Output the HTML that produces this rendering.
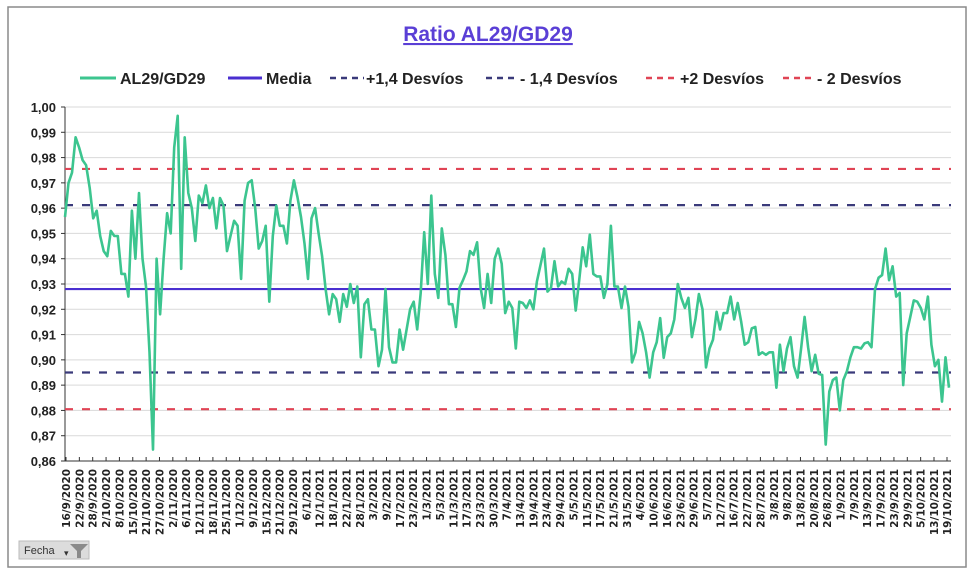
<!DOCTYPE html>
<html><head><meta charset="utf-8"><style>
body{margin:0;background:#fff;font-family:"Liberation Sans",sans-serif;}
svg{display:block}
</style></head><body>
<svg id="chart" width="975" height="577" viewBox="0 0 975 577">
<rect x="8" y="7" width="958" height="560" fill="#fff" stroke="#8a8a8a" stroke-width="1.5"/>
<text x="488" y="41" text-anchor="middle" font-size="21" font-weight="bold" fill="#5a3fd6" text-decoration="underline">Ratio AL29/GD29</text>
<g id="legend" font-size="16" font-weight="bold" fill="#222">
 <g><line x1="80" y1="78" x2="116" y2="78" stroke="#3cc58f" stroke-width="3"/><text x="120" y="84">AL29/GD29</text></g>
 <g><line x1="228" y1="78" x2="262" y2="78" stroke="#4a2fd0" stroke-width="3"/><text x="266" y="84">Media</text></g>
 <g><line x1="330" y1="78" x2="364" y2="78" stroke="#3a3a7a" stroke-width="2.5" stroke-dasharray="6,5"/><text x="366" y="84">+1,4 Desvíos</text></g>
 <g><line x1="486" y1="78" x2="518" y2="78" stroke="#3a3a7a" stroke-width="2.5" stroke-dasharray="6,5"/><text x="520" y="84">- 1,4 Desvíos</text></g>
 <g><line x1="646" y1="78" x2="678" y2="78" stroke="#e04455" stroke-width="2.5" stroke-dasharray="6,5"/><text x="680" y="84">+2 Desvíos</text></g>
 <g><line x1="783" y1="78" x2="815" y2="78" stroke="#e04455" stroke-width="2.5" stroke-dasharray="6,5"/><text x="817" y="84">- 2 Desvíos</text></g>
</g>
<g id="grid"></g>
<g id="yaxis"></g>
<g id="refs"></g>
<g id="series"></g>
<g id="xaxis"></g>
<g>
 <rect x="19" y="541" width="70" height="18" fill="#dcdcdc" stroke="#bbb"/>
 <text x="24" y="554" font-size="11" fill="#333">Fecha</text>
 <text x="64" y="556" font-size="9" fill="#333">▾</text>
 <polygon points="70,544 88,544 81,551 81,558 77,558 77,551" fill="#8a8a8a"/>
</g>
</svg>
<script>
const yTicks=[1.00,0.99,0.98,0.97,0.96,0.95,0.94,0.93,0.92,0.91,0.90,0.89,0.88,0.87,0.86];
const yTickLabels=["1,00","0,99","0,98","0,97","0,96","0,95","0,94","0,93","0,92","0,91","0,90","0,89","0,88","0,87","0,86"];
const xLabels=["16/9/2020","22/9/2020","28/9/2020","2/10/2020","8/10/2020","15/10/2020","21/10/2020","27/10/2020","2/11/2020","6/11/2020","12/11/2020","18/11/2020","25/11/2020","1/12/2020","9/12/2020","15/12/2020","21/12/2020","29/12/2020","6/1/2021","12/1/2021","18/1/2021","22/1/2021","28/1/2021","3/2/2021","9/2/2021","17/2/2021","23/2/2021","1/3/2021","5/3/2021","11/3/2021","17/3/2021","23/3/2021","30/3/2021","7/4/2021","13/4/2021","19/4/2021","23/4/2021","29/4/2021","5/5/2021","11/5/2021","17/5/2021","21/5/2021","31/5/2021","4/6/2021","10/6/2021","16/6/2021","23/6/2021","29/6/2021","5/7/2021","12/7/2021","16/7/2021","22/7/2021","28/7/2021","3/8/2021","9/8/2021","13/8/2021","20/8/2021","26/8/2021","1/9/2021","7/9/2021","13/9/2021","17/9/2021","23/9/2021","29/9/2021","5/10/2021","13/10/2021","19/10/2021"];
const ratioValues=[0.9565,0.970,0.974,0.988,0.984,0.979,0.977,0.968,0.956,0.959,0.949,0.943,0.941,0.951,0.949,0.949,0.934,0.934,0.925,0.959,0.940,0.966,0.940,0.929,0.903,0.8645,0.940,0.918,0.940,0.958,0.950,0.984,0.9965,0.936,0.988,0.966,0.960,0.947,0.965,0.962,0.969,0.960,0.964,0.952,0.964,0.961,0.943,0.949,0.955,0.953,0.932,0.963,0.970,0.971,0.960,0.944,0.947,0.953,0.923,0.949,0.961,0.953,0.953,0.946,0.963,0.971,0.9645,0.9565,0.946,0.932,0.956,0.960,0.950,0.941,0.928,0.918,0.926,0.924,0.915,0.926,0.921,0.930,0.9225,0.929,0.901,0.922,0.924,0.912,0.912,0.8975,0.904,0.928,0.905,0.899,0.899,0.912,0.904,0.912,0.920,0.923,0.912,0.9265,0.9505,0.930,0.965,0.934,0.9245,0.952,0.9415,0.922,0.922,0.913,0.9285,0.9315,0.935,0.943,0.9415,0.9465,0.9285,0.9205,0.934,0.9225,0.940,0.944,0.938,0.9185,0.923,0.9205,0.9045,0.923,0.9225,0.9205,0.9235,0.920,0.931,0.9375,0.944,0.927,0.9285,0.939,0.929,0.931,0.930,0.936,0.934,0.9195,0.9315,0.9445,0.937,0.9495,0.934,0.933,0.933,0.9245,0.930,0.953,0.929,0.929,0.9205,0.929,0.921,0.899,0.903,0.915,0.9105,0.903,0.893,0.903,0.907,0.9165,0.9008,0.909,0.9105,0.916,0.930,0.9245,0.9205,0.9245,0.909,0.916,0.926,0.920,0.897,0.9045,0.908,0.919,0.912,0.9185,0.9185,0.925,0.916,0.9225,0.915,0.906,0.907,0.9125,0.913,0.902,0.903,0.902,0.903,0.903,0.889,0.906,0.8955,0.9045,0.909,0.8975,0.893,0.9045,0.917,0.905,0.8955,0.902,0.8945,0.894,0.8665,0.8875,0.892,0.893,0.880,0.892,0.8955,0.901,0.905,0.905,0.9045,0.9065,0.907,0.905,0.928,0.9325,0.9335,0.944,0.9315,0.937,0.925,0.9265,0.890,0.9105,0.917,0.9235,0.923,0.9205,0.916,0.925,0.906,0.8975,0.900,0.8835,0.901,0.889];
const refValues=[0.928,0.9612,0.8950,0.9755,0.8805];
const refNames=["media-line","plus-1-4-desvios-line","minus-1-4-desvios-line","plus-2-desvios-line","minus-2-desvios-line"];
const refColors=["#4a2fd0","#3a3a7a","#3a3a7a","#e04455","#e04455"];

const NS="http://www.w3.org/2000/svg";
const X0=65,X1=951,YTOP=107,YBOT=461,VMAX=1.00,VMIN=0.86;
function yScale(v){return YTOP+(VMAX-v)/(VMAX-VMIN)*(YBOT-YTOP);}
function xScale(i,n){return X0+i*(X1-2-X0)/(n-1);}
function mk(tag,attrs,parent){const e=document.createElementNS(NS,tag);for(const k in attrs)e.setAttribute(k,attrs[k]);parent.appendChild(e);return e;}
const grid=document.getElementById('grid'),yaxis=document.getElementById('yaxis');
yTicks.forEach((t,i)=>{
 const y=yScale(t);
 if(i<yTicks.length-1){const g=mk('line',{x1:X0,x2:X1,y1:y,y2:y,stroke:'#d9d9d9','stroke-width':1},grid);
 
 }
 const tk=mk('line',{x1:X0-4,x2:X0,y1:y,y2:y,stroke:'#333'},yaxis);
 
 
 const tx=mk('text',{x:X0-9,y:y+5,'text-anchor':'end','font-size':13,'font-weight':'bold',fill:'#222'},yaxis);
 tx.textContent=yTickLabels[i];
 
 
});
const ax=mk('line',{x1:X0,x2:X0,y1:YTOP,y2:YBOT,stroke:'#333'},yaxis);


const refs=document.getElementById('refs');
refValues.forEach((v,i)=>{
 const y=yScale(v);
 const a={x1:X0,x2:X1,y1:y,y2:y,stroke:refColors[i],'stroke-width':2.2};
 if(i>0)a['stroke-dasharray']='8,9';
 const l=mk('line',a,refs);
 
 
});
const series=document.getElementById('series');
const n=ratioValues.length;
const pts=ratioValues.map((v,i)=>xScale(i,n).toFixed(1)+','+yScale(v).toFixed(1)).join(' ');
const pl=mk('polyline',{points:pts,fill:'none',stroke:'#3cc58f','stroke-width':2.6,'stroke-linejoin':'round'},series);


const xaxis=document.getElementById('xaxis');
const xl=mk('line',{x1:X0,x2:X1,y1:YBOT,y2:YBOT,stroke:'#333'},xaxis);


const m=xLabels.length;
xLabels.forEach((lab,i)=>{
 let x=X0+1+i*(934-X0-1)/(m-2);
 if(i==m-1)x=947;
 const tk=mk('line',{x1:x,x2:x,y1:YBOT,y2:YBOT-4,stroke:'#333'},xaxis);
 
 
 const t=mk('text',{x:0,y:0,'text-anchor':'end','font-family':'"DejaVu Sans",sans-serif','font-size':10.5,'font-weight':'bold',fill:'#222',transform:`translate(${(x+4).toFixed(1)},469) rotate(-90)`},xaxis);
 t.textContent=lab;
 
 
});
</script>
</body></html>
